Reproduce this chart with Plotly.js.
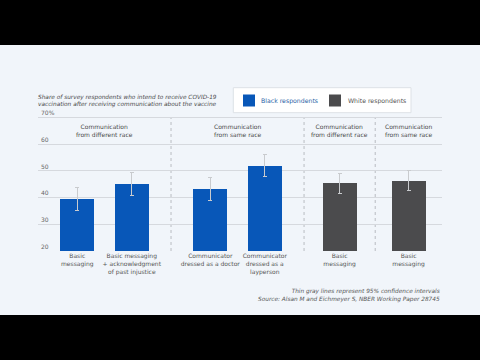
<!DOCTYPE html>
<html>
<head>
<meta charset="utf-8">
<script src="https://cdn.plot.ly/plotly-3.0.1.min.js"></script>
<style>
  html, body { margin: 0; padding: 0; background: #000; width: 480px; height: 360px; overflow: hidden; }
  #chart { position: absolute; left: 0; top: 45px; width: 480px; height: 270px; }
</style>
</head>
<body>
<div id="chart"></div>
<script>
// Share (%) intending to get vaccinated, by messenger condition
const blackLabels = [
  "Basic<br>messaging",
  "Basic messaging<br>+ acknowledgment<br>of past injustice",
  "Communicator<br>dressed as a doctor",
  "Communicator<br>dressed as a<br>layperson"
];
const blackValues = [39.5, 45.1, 43.1, 51.9];
const blackLow    = [35.3, 40.9, 38.8, 48.0];
const blackHigh   = [43.8, 49.5, 47.6, 56.2];
const blackSection = [0, 0, 1, 1];

const whiteLabels = ["Basic<br>messaging", "Basic<br>messaging"];
const whiteValues = [45.4, 46.1];
const whiteLow    = [41.5, 42.6];
const whiteHigh   = [49.1, 50.0];
const whiteSection = [2, 3];

const sectionTitles = [
  "Communication<br>from different race",
  "Communication<br>from same race",
  "Communication<br>from different race",
  "Communication<br>from same race"
];

const yTickVals = [20, 30, 40, 50, 60, 70];
const yTickText = ["20", "30", "40", "50", "60", "70%"];

// Horizontal layout: each section gets a width in bar-slot units
const sectionWidths = [2.44, 2.44, 1.305, 1.225];
const sectionStart = [];
let acc = 0;
sectionWidths.forEach(w => { sectionStart.push(acc); acc += w; });
const totalWidth = acc;
const sectionCenter = sectionWidths.map((w, i) => sectionStart[i] + w / 2);

// Count bars per section to centre them inside it
const allSections = blackSection.concat(whiteSection);
const counts = sectionWidths.map((_, i) => allSections.filter(s => s === i).length);
const seen = sectionWidths.map(() => 0);
function place(sec) {
  const k = seen[sec]++;
  return sectionCenter[sec] + (k - (counts[sec] - 1) / 2);
}
const blackX = blackSection.map(place);
const whiteX = whiteSection.map(place);

const FONT = "DejaVu Sans";
const TEXT = "#555555";
const BLUE = "#0857b8";
const GREY = "#4b4b4d";
const BAR_W = 0.62;
const Y_MIN = 20, Y_MAX = 70, Y_TOP = 75;

// Figure geometry (px): plot spans 38..442 horizontally, bottom edge at 206
const M_L = 38, M_R = 38, M_B = 64, M_T = 59, FIG_H = 270, FIG_W = 480;
const PLOT_BOTTOM = FIG_H - M_B;
const py = fy => (PLOT_BOTTOM - fy) / (PLOT_BOTTOM - M_T);
const px = fx => (fx - M_L) / (FIG_W - M_L - M_R);

const errStyle = { color: "#c9cbce", thickness: 1, width: 2 };

const traces = [
  {
    type: "bar", name: "Black respondents",
    x: blackX, y: blackValues, width: BAR_W,
    marker: { color: BLUE },
    error_y: Object.assign({
      type: "data", symmetric: false,
      array: blackValues.map((v, i) => blackHigh[i] - v),
      arrayminus: blackValues.map((v, i) => v - blackLow[i])
    }, errStyle),
    hoverinfo: "y+name"
  },
  {
    type: "bar", name: "White respondents",
    x: whiteX, y: whiteValues, width: BAR_W,
    marker: { color: GREY },
    error_y: Object.assign({
      type: "data", symmetric: false,
      array: whiteValues.map((v, i) => whiteHigh[i] - v),
      arrayminus: whiteValues.map((v, i) => v - whiteLow[i])
    }, errStyle),
    hoverinfo: "y+name"
  }
];

// Dashed separators between sections
const shapes = sectionStart.slice(1).map(x0 => ({
  type: "line", xref: "x", yref: "y", x0: x0, x1: x0, y0: Y_MIN, y1: Y_MAX,
  line: { color: "#b9bcc1", width: 1, dash: "3px,3px" }, layer: "below"
}));

// Legend box and swatches
shapes.push(
  { type: "rect", xref: "paper", yref: "paper", x0: px(233.3), x1: px(411), y0: py(67.7), y1: py(42.7),
    fillcolor: "#ffffff", line: { color: "#dde1e6", width: 1 } },
  { type: "rect", xref: "paper", yref: "paper", x0: px(243), x1: px(255), y0: py(61.5), y1: py(49.5),
    fillcolor: BLUE, line: { width: 0 } },
  { type: "rect", xref: "paper", yref: "paper", x0: px(329), x1: px(341), y0: py(61.5), y1: py(49.5),
    fillcolor: GREY, line: { width: 0 } }
);

const annotations = sectionTitles.map((t, i) => ({
  text: t, xref: "x", yref: "paper", x: sectionCenter[i], y: py(85.3),
  xanchor: "center", yanchor: "middle", showarrow: false, align: "center",
  font: { family: FONT, size: 6, color: "#4a4a4a" }
}));

annotations.push(
  { text: "Black respondents", xref: "paper", yref: "paper", x: px(259), y: py(55.5),
    xanchor: "left", yanchor: "middle", showarrow: false,
    font: { family: FONT, size: 6.2, color: "#2b5fa6" } },
  { text: "White respondents", xref: "paper", yref: "paper", x: px(345.7), y: py(55.5),
    xanchor: "left", yanchor: "middle", showarrow: false,
    font: { family: FONT, size: 6.2, color: "#555555" } },
  { text: "Thin gray lines represent 95% confidence intervals<br>Source: Alsan M and Eichmeyer S, NBER Working Paper 28745",
    xref: "paper", yref: "paper", x: 1, y: py(250.4),
    xanchor: "right", yanchor: "middle", showarrow: false, align: "right",
    font: { family: FONT, size: 5.8, color: "#555555", style: "italic" } }
);

const layout = {
  width: FIG_W, height: FIG_H,
  margin: { l: M_L, r: M_R, t: M_T, b: M_B },
  paper_bgcolor: "#f1f5fa",
  plot_bgcolor: "#f1f5fa",
  showlegend: false,
  bargap: 0,
  font: { family: FONT, size: 6, color: TEXT },
  title: {
    text: "Share of survey respondents who intend to receive COVID-19<br>vaccination after receiving communication about the vaccine",
    xref: "paper", x: 0, xanchor: "left",
    yref: "container", y: 1 - 53.7 / FIG_H, yanchor: "top",
    font: { family: FONT, size: 5.8, color: "#4a4a4a", style: "italic" }
  },
  xaxis: {
    range: [0, totalWidth],
    tickmode: "array",
    tickvals: blackX.concat(whiteX),
    ticktext: blackLabels.concat(whiteLabels),
    showgrid: false, zeroline: false, showline: false,
    ticks: "", ticklen: 0,
    tickfont: { family: FONT, size: 6, color: TEXT },
    fixedrange: true
  },
  yaxis: {
    // headroom above the top gridline leaves space for the "70%" label
    range: [Y_MIN, Y_TOP],
    tickmode: "array",
    tickvals: yTickVals,
    ticktext: yTickText,
    ticklabelposition: "inside top",
    showgrid: true, gridcolor: "#d6d9de", gridwidth: 1,
    zeroline: false, showline: false, ticks: "",
    tickfont: { family: FONT, size: 6, color: "#666666" },
    fixedrange: true
  },
  shapes: shapes,
  annotations: annotations
};

Plotly.newPlot("chart", traces, layout, { displayModeBar: false, staticPlot: true });
</script>
</body>
</html>
